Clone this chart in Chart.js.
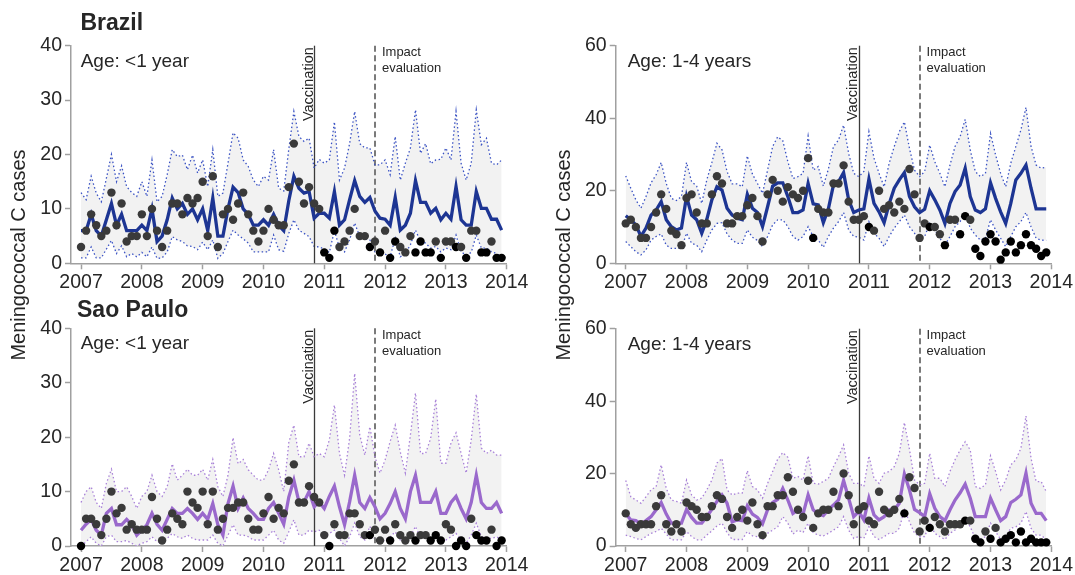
<!DOCTYPE html>
<html>
<head>
<meta charset="utf-8">
<script src="https://cdn.jsdelivr.net/npm/chart.js@4.4.1/dist/chart.umd.min.js"></script>
<style>
  html, body { margin: 0; padding: 0; background: #ffffff; }
  #wrap { position: relative; width: 1075px; height: 575px; overflow: hidden; }
  #wrap canvas { position: absolute; left: 0; top: 0; }
</style>
</head>
<body>
<div id="wrap">
  <canvas id="brLt1" width="1075" height="575"></canvas>
  <canvas id="br1to4" width="1075" height="575"></canvas>
  <canvas id="spLt1" width="1075" height="575"></canvas>
  <canvas id="sp1to4" width="1075" height="575"></canvas>
</div>
<script>
// ---- monthly series, Jan 2007 .. Dec 2013 ----
const firstYear = 2007;
const monthIndex = Array.from({ length: 84 }, (_, i) => i);
const monthTimes = monthIndex.map(i => firstYear + i / 12);
const yearTicks = [2007, 2008, 2009, 2010, 2011, 2012, 2013, 2014];
const vaccinationStart = 2010 + 10 / 12;
const impactStart = 2011 + 10 / 12;

// Brazil, age <1 year
const brLt1Pred = [6,6,9,6,5,8,11,7,9,6,6,6, 7,6,10,4,5,8,12,10,11,9,10,8, 10,6,12,5,5,10,14,13,10,9,7,7,
  8,7,9,7,6,11.5,16,13.8,12.9,13.2,8.3,9.2, 9.2,8.3,13.2,7,8,11.7,15.2,12.3,11.2,12.1,9.6,8.3,
  8.1,7,12.1,6.1,7,9.2,15.2,11.2,11.2,9.2,10.1,8, 9.2,8.1,14.1,8,7,7,13.2,10.1,10.1,8.1,8.1,6.1];
const brLt1Upper = [13,11.7,16,12.9,11.3,15.6,20,15,17.9,14.1,13,12.3, 15,12.3,19,11.3,12.3,16.3,20.9,19.6,19.9,17.2,19.9,16.6,
  19,14.1,20.9,12.3,12.9,18.4,24,23,19,17.8,15.3,14.1, 16,15.3,20.9,13.8,13.3,21,27.9,23.3,22.4,23,17.5,19.1,
  18.4,19,26,15.3,17.5,22,27.9,22,21.2,21.2,18.1,18.1, 19,16.3,23.3,15.3,18.4,21.2,28.2,20.2,22,18.3,19,19.1,
  21.2,19,27.9,18.4,15.3,18.4,28.2,21.8,23,18.4,18.1,19];
const brLt1Lower = [1,1,3,1,1,2.6,4.2,1.8,3.2,1.2,1.8,1.2, 2,1.2,3,0.9,1,2.1,4.9,4.3,4,3.2,3.1,2.5,
  3.9,2.5,4.3,0.9,1.8,4,6.1,5.2,4.5,3.7,2.1,2.1, 2.1,2.1,5.2,2.5,2.2,5.5,8,6.1,5.5,4.9,3.1,3,
  2.6,2,6,2.8,2.1,4.3,7.4,4.9,4.6,4.3,2.1,2.1, 1.7,1.2,4.6,1.2,1.8,3.4,6.1,4,3.7,2.8,3.1,2.1,
  2.8,2.5,5.2,2.1,1.5,2,5.2,2.8,2.8,2.1,1.8,1.2];
const brLt1Obs = [3,6,9,7,5,6,13,7,11,4,5,5, 9,5,10,6,3,6,11,11,9,12,11,12, 15,5,16,3,9,10,8,11,13,9,6,4,
  6,10,8,7,7,14,22,15,11,14,11,10, 2,1,6,3,4,6,10,5,5,3,4,2, 6,1,4,3,2,5,2,4,2,2,4,1, 4,4,3,3,1,6,6,2,2,4,1,1];

// Brazil, age 1-4 years
const br1to4Pred = [13.1,12,10.6,7.4,9.7,13.3,14.7,17,12,10.1,9.2,9.7, 18.4,13.3,12,8.3,12.1,17.5,21.1,20.2,15.2,13.3,12.4,12,
  19,15.2,14,10.1,15.6,21.3,22.2,22.2,18.4,14,14,14.7, 22,16.4,16.1,11.2,15,21.6,22.5,25,17.5,14,14.7,15,
  23.2,16.5,14.2,11.2,16.4,20.7,23,25,18.4,15.6,14,14.9, 20,17.5,14.7,11,16.5,19.8,21.6,26.2,18.4,14.7,14,15,
  22.2,17.9,14.2,11,16.5,23,24.8,27.1,20.7,15,15,15];
const br1to4Upper = [24.1,20.7,17.5,15.2,18.4,22.2,24.4,27.8,22,17.9,17.3,18.4, 27.8,22.5,21.3,16.5,23,27.8,33.1,31.3,25.3,21.9,21.9,21.1,
  29.6,24.6,22,19.3,25.7,32.2,34.9,33.8,28,23.4,23.9,24.8, 35.1,25.7,26.7,21.3,26,32.2,34,38.1,30.3,24.8,23.9,25.3,
  36.3,29,24.8,21.1,27.6,32.2,36.3,39,31.7,25.7,23.9,25.3, 32.6,28,24.8,21.1,27.1,32.2,34.9,39.7,31.3,25.3,23.9,24.8,
  35.8,29.9,24.8,21.1,27.6,32.2,36.8,43,32.2,27.1,26.2,26.5];
const br1to4Lower = [6,4.6,3.2,2.3,3.7,6.4,7.4,8.1,5,4.1,4.1,4.1, 8.3,5.5,5,3.2,6.4,9.2,11,11.2,8.1,6.4,5.5,5.5,
  9.2,7.2,6.3,4.6,7.4,10.6,12,12,10.1,7.4,6.4,7.4, 10.1,7.4,6.4,4.4,7.4,9.7,11.5,14,9.2,7.4,7.2,6.4,
  11.5,8.3,6.9,4.6,7.4,9.7,11.5,13.3,10.1,8.3,6.4,7.4, 11,9.2,6.9,5,7.4,10.1,11.5,14,9.7,7.8,6.4,6.9,
  12,9.2,6.9,4.6,7.4,10.1,11.5,14,10.1,6.9,6.4,6.3];
const br1to4Obs = [11,12,10,7,7,10,14,19,15,9,8,5, 18,19,14,11,11,19,24,22,11,11,13,13, 16,18,13,6,19,23,20,17,21,19,18,20,
  29,7,15,14,14,22,22,27,17,12,12,13, 10,9,20,15,16,14,17,15,26,19,7,11, 10,10,8,5,12,12,8,13,12,4,2,6,
  8,6,1,3,6,3,5,8,5,4,2,3];

// Sao Paulo, age <1 year
const spLt1Pred = [2.9,4,4.9,2.9,2,6,6.9,3.9,3.9,4.9,3.9,2, 2.9,3.9,6,4,2.9,4.9,6.9,6,6,6.9,6,4.9,
  6,4.9,7.8,3.9,2,7.8,11,6.9,8.8,6.9,6,4.9, 4.9,6.9,8,6,4,9,12.1,8.1,8.1,10,7.2,8.1,
  6.9,9.1,11,7.2,3.9,8.1,13,8,6.9,8.9,7.2,5, 6,7.8,10,6.9,5,10,13,8,8,8,10,6, 6,8,9.1,6.9,5,8,13,8,6.9,6.9,8,6];
const spLt1Upper = [8,10,10.9,8,6.9,11.5,14.1,10,10,10.9,9.1,6.9, 9.1,10,13,10,9.1,10.9,15.1,12.1,13,14.1,13,13,
  14.1,12.1,15.9,10.9,9.1,13,19.9,15.1,15.9,14,13,12.1, 12.1,14,17,14,10,19,22.2,16.4,16.4,18.9,16.4,17,
  16.4,19.5,25.9,17,13,19.8,31.7,20.4,16.7,21.9,16.4,13.4, 15.8,19.2,22.2,17.3,13.4,20.4,28.1,17,17,19.8,27,15.2,
  15.2,18.9,20.8,17,13.4,19.5,27.9,18,17,17.6,16.7,16.7];
const spLt1Lower = [0,0.8,1.7,0.5,0,1.7,2,0.8,0.8,1,0.5,0, 0.5,0.8,1.7,0.8,0.5,1.4,2.3,1.7,1.4,2,1.4,1.1,
  1.1,1.1,2,0.5,0,2,3.9,2,2,1.7,1.1,1.1, 1.1,2,2.9,1.1,0.5,2.6,4.8,2,2,2.9,2.6,2.9,
  1.7,2.3,2.9,1.4,0,1.7,4.2,1.7,1.1,3.6,1.1,0.5, 1.1,1.7,2.6,1.1,0.5,1.7,3.6,1.4,1.4,1.4,2,1.1,
  1.1,1.7,2.3,1.1,0.5,2,4.2,1.7,1.4,1.4,1.7,1.1];
const spLt1Obs = [0,5,5,4,2,5,10,6,7,3,4,3, 3,3,9,5,1,3,6,5,4,10,8,7, 10,4,10,3,5,7,7,8,8,5,3,3,
  6,9,5,7,6,12,15,8,8,11,9,8, 2,0,4,2,2,6,6,4,2,2,3,1, 3,1,4,2,1,2,1,2,2,1,2,1, 4,3,0,1,0,5,2,1,1,3,0,1];

// Sao Paulo, age 1-4 years
const sp1to4Pred = [9,7.2,7,6.1,7,8.1,10,12,8.8,6.3,6.3,6.3, 10.1,7.9,6.3,6.3,8.1,10.1,12.3,14.1,11.8,6.7,7.2,7,
  11.1,8.8,7.9,6.1,10,12,12.9,15.9,12.7,9,10,8.8, 14.1,10,8.8,8.4,10,11.3,12.7,18.1,13.2,8.1,9.5,7.2,
  13.2,8.6,7.2,8.1,10,10,11.8,19.9,15.5,10.1,9.2,8.1, 14.4,10.4,8.1,7,10,12.7,14.7,17.1,13.2,8.1,8.1,8.1,
  13.2,10,7,8.1,12,12.9,14.1,20.1,11.8,9,9,7];
const sp1to4Upper = [18.1,13.6,12.7,11.8,13.6,15.5,16.4,22.4,15.9,12.7,12.3,11.8, 18.2,14.1,12.7,13.2,15.5,18.2,22.9,24.2,15.5,14.1,14.6,14.6,
  20.8,16.4,15.5,13.2,17.3,20.6,24,25.8,24.5,18.7,19.2,18.2, 24.9,17.3,17.1,17.8,18.7,21.9,24.7,27.9,20.1,17.3,17.3,16.4,
  24.9,18.7,17.3,20.1,20.6,21.9,25.6,34.1,26.7,18.2,16.9,17.3, 25.6,18.7,18.7,16.4,20.6,23.8,26.5,28.8,26.5,16.4,15.9,16.9,
  24.9,20.6,15.5,18.2,22.4,23.8,27,35.9,24.2,17.8,17.8,15];
const sp1to4Lower = [3,2.6,2.1,1.7,2.6,3.5,4,4.9,3.3,1.7,1.7,1.7, 4,2.6,1.7,1.7,3,4.2,5.5,6.3,3.7,1.8,1.8,1.8,
  4,2.8,2.6,1.7,3.5,4.4,5.3,8.1,6.3,3.3,4.4,3.7, 6.3,3.7,3,2.8,3.5,4.4,5.3,8.1,4.4,2.1,2.6,2.1,
  5.3,2.6,1.8,2.6,3.5,3.5,4.9,10,6.7,3.5,2.6,2.6, 6.3,3.5,2.6,1.8,3.5,4.4,5.8,7.6,5.3,2.1,1.8,2.6,
  6.3,4,1.8,2.6,4.9,5.3,6.3,9.5,4.9,3,3,1.8];
const sp1to4Obs = [9,6,5,6,6,6,11,14,6,4,6,4, 12,11,10,8,8,11,14,13,8,5,8,10, 7,12,6,3,11,11,14,14,19,15,10,8,
  18,5,9,10,10,15,11,20,14,6,10,11, 7,6,15,10,9,10,13,9,19,16,4,7, 5,8,6,4,6,6,6,7,7,2,1,4, 2,5,1,2,3,1,4,1,2,1,1,1];

// ---- drawing ----
const FONT = '"Liberation Sans", Arial, Helvetica, sans-serif';
const TEXT = '#262626';
const AXIS = '#a0a0a0';
const Y_W = 50, X_H = 29;

Chart.defaults.font.family = FONT;

function series(values) {
  return values.map((v, i) => ({ x: monthTimes[i], y: v }));
}

const annotations = {
  id: 'annotations',
  afterDatasetDraw(chart, args) {
    if (args.index !== 3) return;
    const { ctx, chartArea: a, scales: { x } } = chart;
    const vx = Math.round(x.getPixelForValue(vaccinationStart)) + 0.5;
    const ix = Math.round(x.getPixelForValue(impactStart));
    ctx.save();
    ctx.strokeStyle = '#3a3a3a';
    ctx.lineWidth = 1.3;
    ctx.beginPath(); ctx.moveTo(vx, a.top); ctx.lineTo(vx, a.bottom); ctx.stroke();
    ctx.strokeStyle = '#7a7a7a';
    ctx.lineWidth = 2;
    ctx.setLineDash([6, 3.5]);
    ctx.beginPath(); ctx.moveTo(ix, a.top); ctx.lineTo(ix, a.bottom); ctx.stroke();
    ctx.restore();
  },
  afterDraw(chart, args, opts) {
    const { ctx, chartArea: a, scales: { x } } = chart;
    const vx = x.getPixelForValue(vaccinationStart);
    const ix = x.getPixelForValue(impactStart);
    ctx.save();
    ctx.fillStyle = TEXT;
    // event labels
    ctx.font = '14.5px ' + FONT;
    ctx.textBaseline = 'alphabetic';
    ctx.save();
    ctx.translate(vx - 1.5, a.top + 1.5);
    ctx.rotate(-Math.PI / 2);
    ctx.textAlign = 'right';
    ctx.fillText('Vaccination', 0, 0);
    ctx.restore();
    ctx.font = '13px ' + FONT;
    ctx.textAlign = 'left';
    ctx.fillText('Impact', ix + 7, a.top + 10.6);
    ctx.fillText('evaluation', ix + 7, a.top + 26.3);
    // age group
    ctx.font = '19px ' + FONT;
    ctx.fillText(opts.age, a.left + opts.ageDx, a.top + 21);
    // region heading
    if (opts.region) {
      ctx.font = 'bold 23px ' + FONT;
      ctx.fillText(opts.region, opts.regionX, opts.regionY);
    }
    // shared axis title
    if (opts.yTitle) {
      ctx.font = '20px ' + FONT;
      ctx.translate(opts.yTitleX, opts.yTitleY);
      ctx.rotate(-Math.PI / 2);
      ctx.textAlign = 'center';
      ctx.textBaseline = 'middle';
      ctx.fillText(opts.yTitle, 0, 0);
    }
    ctx.restore();
  }
};

function makePanel(id, p) {
  const area = p.area;
  const tickFont = { family: FONT, size: 19.5 };
  new Chart(document.getElementById(id), {
    type: 'line',
    data: {
      datasets: [
        {
          label: 'Observed',
          data: series(p.obs),
          showLine: false,
          pointRadius: 4.2,
          pointBorderWidth: 0,
          pointBackgroundColor: c => (p.obs[c.dataIndex] <= p.lower[c.dataIndex] ? '#000000' : '#3a3a3a'),
          clip: false
        },
        {
          label: 'Expected',
          data: series(p.pred),
          borderColor: p.lineColor,
          borderWidth: 3.3,
          pointRadius: 0,
          tension: 0,
          fill: false
        },
        {
          label: 'Upper limit',
          data: series(p.upper),
          borderColor: p.boundColor,
          borderWidth: 1.3,
          borderDash: [1.5, 2.5],
          pointRadius: 0,
          tension: 0,
          fill: false
        },
        {
          label: 'Lower limit',
          data: series(p.lower),
          borderColor: p.boundColor,
          borderWidth: 1.3,
          borderDash: [1.5, 2.5],
          pointRadius: 0,
          tension: 0,
          fill: '-1',
          backgroundColor: '#f2f2f2'
        }
      ]
    },
    options: {
      responsive: false,
      animation: false,
      events: [],
      layout: {
        autoPadding: false,
        padding: {
          left: area.left - Y_W,
          top: area.top,
          right: 1075 - area.right,
          bottom: 575 - area.bottom - X_H
        }
      },
      plugins: {
        legend: { display: false },
        tooltip: { enabled: false },
        annotations: p.labels
      },
      scales: {
        x: {
          type: 'linear',
          min: 2006.835,
          max: 2014,
          afterFit: s => { s.height = X_H; },
          afterBuildTicks: s => { s.ticks = yearTicks.map(v => ({ value: v })); },
          ticks: { callback: v => String(v), font: tickFont, color: TEXT, padding: 2, maxRotation: 0, autoSkip: false },
          grid: { drawOnChartArea: false, drawTicks: true, tickLength: 6, tickColor: AXIS, tickWidth: 1.5 },
          border: { display: true, color: AXIS, width: 1.5 }
        },
        y: {
          min: 0,
          max: p.yMax,
          afterFit: s => { s.width = Y_W; },
          ticks: { stepSize: p.yStep, font: tickFont, color: TEXT, padding: 3 },
          grid: { drawOnChartArea: false, drawTicks: true, tickLength: 6, tickColor: AXIS, tickWidth: 1.5 },
          border: { display: true, color: AXIS, width: 1.5 }
        }
      }
    },
    plugins: [annotations]
  });
}

const BLUE = '#1d3593', BLUE_BOUND = '#3a52c4';
const PURPLE = '#9a69cc', PURPLE_BOUND = '#a880d8';
const Y_TITLE = 'Meningococcal C cases';

makePanel('brLt1', {
  area: { left: 71, top: 45.7, right: 506.7, bottom: 263.3 }, yMax: 40, yStep: 10,
  pred: brLt1Pred, upper: brLt1Upper, lower: brLt1Lower, obs: brLt1Obs,
  lineColor: BLUE, boundColor: BLUE_BOUND,
  labels: { age: 'Age: <1 year', ageDx: 9.7, region: 'Brazil', regionX: 80.5, regionY: 30,
            yTitle: Y_TITLE, yTitleX: 19.5, yTitleY: 255 }
});
makePanel('br1to4', {
  area: { left: 615.7, top: 45.7, right: 1051.7, bottom: 263.3 }, yMax: 60, yStep: 20,
  pred: br1to4Pred, upper: br1to4Upper, lower: br1to4Lower, obs: br1to4Obs,
  lineColor: BLUE, boundColor: BLUE_BOUND,
  labels: { age: 'Age: 1-4 years', ageDx: 12, yTitle: Y_TITLE, yTitleX: 564.5, yTitleY: 255 }
});
makePanel('spLt1', {
  area: { left: 71, top: 328.3, right: 506.7, bottom: 546 }, yMax: 40, yStep: 10,
  pred: spLt1Pred, upper: spLt1Upper, lower: spLt1Lower, obs: spLt1Obs,
  lineColor: PURPLE, boundColor: PURPLE_BOUND,
  labels: { age: 'Age: <1 year', ageDx: 9.7, region: 'Sao Paulo', regionX: 77, regionY: 316.7 }
});
makePanel('sp1to4', {
  area: { left: 615.7, top: 328.7, right: 1051.7, bottom: 546 }, yMax: 60, yStep: 20,
  pred: sp1to4Pred, upper: sp1to4Upper, lower: sp1to4Lower, obs: sp1to4Obs,
  lineColor: PURPLE, boundColor: PURPLE_BOUND,
  labels: { age: 'Age: 1-4 years', ageDx: 12 }
});
</script>
</body>
</html>
